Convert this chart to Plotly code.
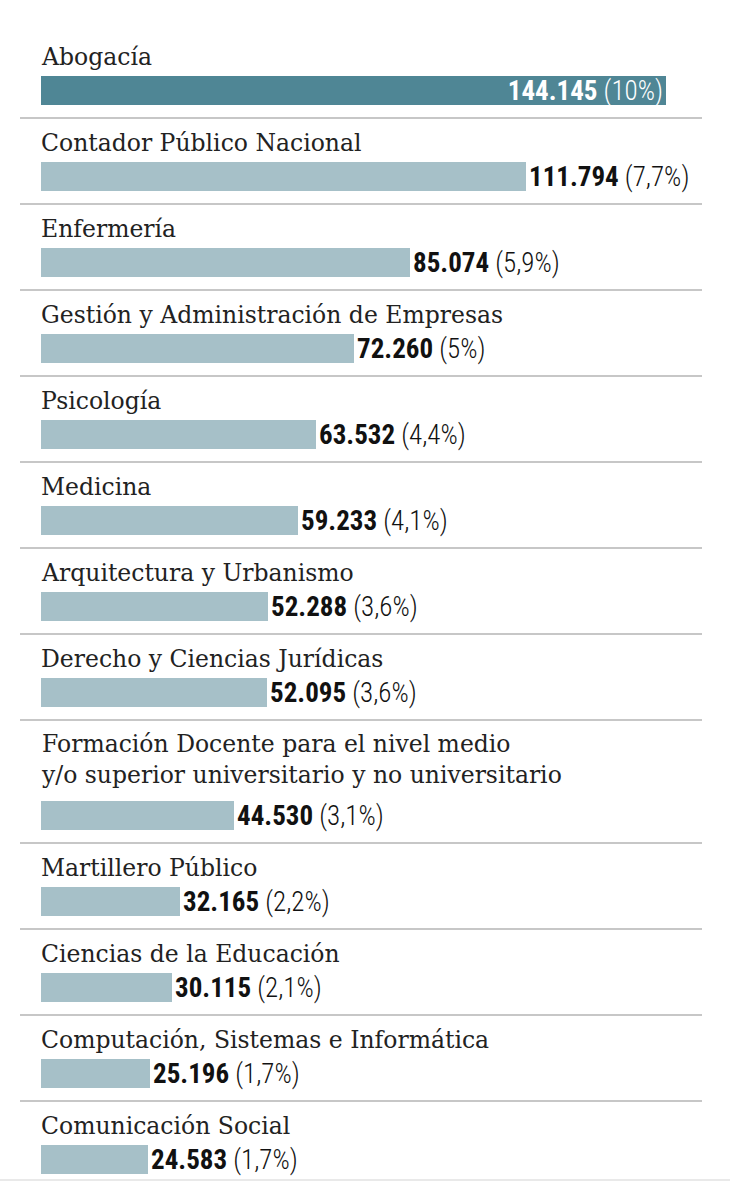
import plotly.graph_objects as go

categories = [
    "Abogacía",
    "Contador Público Nacional",
    "Enfermería",
    "Gestión y Administración de Empresas",
    "Psicología",
    "Medicina",
    "Arquitectura y Urbanismo",
    "Derecho y Ciencias Jurídicas",
    "Formación Docente para el nivel medio<br>y/o superior universitario y no universitario",
    "Martillero Público",
    "Ciencias de la Educación",
    "Computación, Sistemas e Informática",
    "Comunicación Social",
]
values = [144145, 111794, 85074, 72260, 63532, 59233, 52288, 52095, 44530, 32165, 30115, 25196, 24583]
percents = [10, 7.7, 5.9, 5, 4.4, 4.1, 3.6, 3.6, 3.1, 2.2, 2.1, 1.7, 1.7]

W, H = 730, 1200
LEFT = 41
MAXLEN = 625
ROW_H = 86
EXTRA_LINE = 37
BAR_H = 29

def fmt_num(v):
    return f"{v:,}".replace(",", ".")

def fmt_pct(p):
    s = f"{p:g}".replace(".", ",")
    return f"({s}%)"

# layout positions (pixels, y axis reversed so units = px)
label_y, bar_y, seps = [], [], []
top = 118 - ROW_H
for i, c in enumerate(categories):
    nl = c.count("<br>")
    label_y.append(top + 25 + nl * 14.5)
    by = top + 44 + nl * EXTRA_LINE + BAR_H / 2
    bar_y.append(by)
    top += ROW_H + nl * EXTRA_LINE
    if i == len(categories) - 1:
        seps.append(by + BAR_H / 2 + 6)
    else:
        seps.append(top)

k = max(values) / MAXLEN
colors = ["#4f8695"] + ["#a6c0c8"] * (len(values) - 1)
texts = [f"<b>{fmt_num(v)}</b> {fmt_pct(p)}" for v, p in zip(values, percents)]

fig = go.Figure()
fig.add_trace(go.Bar(
    x=values, y=bar_y, orientation="h", width=BAR_H,
    marker=dict(color=colors, line=dict(width=0)),
    text=texts,
    textposition=["inside"] + ["outside"] * (len(values) - 1),
    insidetextanchor="end",
    constraintext="none",
    textfont=dict(family="Roboto Condensed, Roboto, sans-serif", size=27, weight=300,
                  color=["#ffffff"] + ["#111111"] * (len(values) - 1)),
    cliponaxis=False,
    hoverinfo="skip",
))

for c, ly in zip(categories, label_y):
    fig.add_annotation(x=0, y=ly, xref="x", yref="y", text=c, showarrow=False,
                       xanchor="left", yanchor="middle", align="left", xshift=-2,
                       font=dict(family="DejaVu Serif", size=23.5, color="#222222"))

for i, s in enumerate(seps):
    last = i == len(seps) - 1
    fig.add_shape(type="line", xref="paper", yref="y",
                  x0=0 if last else 20 / W, x1=1 if last else 702 / W, y0=s, y1=s,
                  line=dict(color="#e2e2e2" if last else "#b5b5b5", width=1.5))

fig.update_layout(
    width=W, height=H, margin=dict(l=0, r=0, t=0, b=0),
    paper_bgcolor="white", plot_bgcolor="white", showlegend=False,
    xaxis=dict(range=[-LEFT * k, (W - LEFT) * k], visible=False, fixedrange=True),
    yaxis=dict(range=[H, 0], visible=False, fixedrange=True),
    bargap=0,
)
fig.write_html("out.html")
